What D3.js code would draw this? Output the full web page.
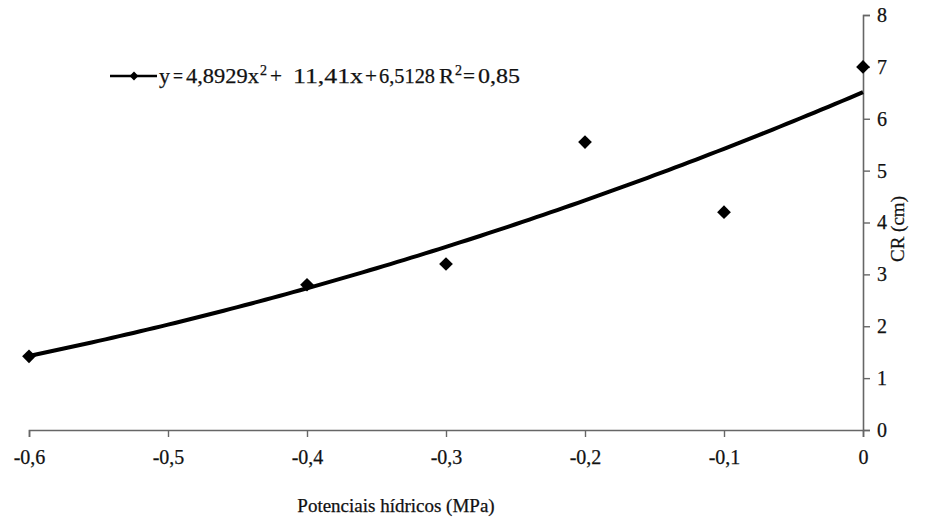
<!DOCTYPE html>
<html>
<head>
<meta charset="utf-8">
<script src="https://cdn.jsdelivr.net/npm/d3@7"></script>
<style>
  body { margin: 0; background: #fff; }
  svg { display: block; }
  text { font-family: "Liberation Serif", "Times New Roman", serif !important; fill: #111; stroke: #111; stroke-width: 0.25px; }
</style>
</head>
<body>
<svg id="chart" width="932" height="522"></svg>
<script>
// Measured water potential (MPa) and root length CR (cm)
const potentials = [-0.6, -0.4, -0.3, -0.2, -0.1, 0];
const rootLength = [1.42, 2.8, 3.2, 5.55, 4.2, 7.0];
// Quadratic trend coefficients [a, b, c] for y = a x² + b x + c
const trendCoef = [4.8929, 11.41, 6.5128];
const xTicks = [-0.6, -0.5, -0.4, -0.3, -0.2, -0.1, 0];
const yTicks = [0, 1, 2, 3, 4, 5, 6, 7, 8];

const serif = "Liberation Serif, Times New Roman, serif";
const svg = d3.select("#chart");
const x = d3.scaleLinear().domain([-0.6, 0]).range([29, 863]);
const y = d3.scaleLinear().domain([0, 8]).range([430, 15]);

// X axis along the bottom
const gx = svg.append("g").attr("transform", `translate(0,${y(0)})`)
  .call(d3.axisBottom(x).tickValues(xTicks).tickSize(7).tickPadding(13)
    .tickFormat(d => d === 0 ? "0" : d.toFixed(1).replace(".", ",")))
  .attr("font-family", serif);
gx.select(".domain").attr("stroke", "#666").attr("stroke-width", 1.6);
gx.selectAll(".tick line").attr("stroke", "#666").attr("stroke-width", 1.4);
gx.selectAll(".tick text").attr("font-size", 20).attr("fill", "#111");

// Y axis on the right side at x = 0
const gy = svg.append("g").attr("transform", `translate(${x(0)},0)`)
  .call(d3.axisRight(y).tickValues(yTicks).tickSize(7).tickPadding(7).tickFormat(d3.format("d")))
  .attr("font-family", serif);
gy.select(".domain").attr("stroke", "#666").attr("stroke-width", 1.6);
gy.selectAll(".tick line").attr("stroke", "#666").attr("stroke-width", 1.4);
gy.selectAll(".tick text").attr("font-size", 20).attr("fill", "#111");

// Trend curve from the fitted coefficients
const curveX = d3.range(0, 121).map(i => -0.6 + i * 0.005);
const trend = curveX.map(v => [v, trendCoef[0] * v * v + trendCoef[1] * v + trendCoef[2]]);
svg.append("path")
  .datum(trend)
  .attr("fill", "none")
  .attr("stroke", "#000")
  .attr("stroke-width", 4)
  .attr("d", d3.line().x(d => x(d[0])).y(d => y(d[1])));

// Observed points as diamonds
const diamond = d3.symbol().type(d3.symbolDiamond2).size(120);
svg.append("g").selectAll("path")
  .data(potentials.map((p, i) => [p, rootLength[i]]))
  .join("path")
  .attr("transform", d => `translate(${x(d[0])},${y(d[1])})`)
  .attr("d", diamond)
  .attr("fill", "#000");

// Legend entry: line + marker, then the equation
const lg = svg.append("g").attr("transform", "translate(110,76)");
lg.append("line").attr("x1", 0).attr("x2", 47).attr("y1", 0).attr("y2", 0)
  .attr("stroke", "#000").attr("stroke-width", 2.5);
lg.append("path").attr("d", d3.symbol().type(d3.symbolDiamond2).size(50))
  .attr("transform", "translate(24,0)").attr("fill", "#000");

// Equation pieces with their horizontal extents
const eqParts = [
  { t: "y", x: 159, w: 11 }, { t: "=", x: 173, w: 10 }, { t: "4,8929x", x: 186, w: 73 },
  { t: "2", x: 260, sup: true }, { t: "+", x: 270, w: 12 }, { t: "11,41x", x: 293, w: 70 },
  { t: "+", x: 365, w: 12 }, { t: "6,5128", x: 379, w: 56 }, { t: "R", x: 439, w: 15 },
  { t: "2", x: 455, sup: true }, { t: "=", x: 463, w: 12 }, { t: "0,85", x: 478, w: 42 }
];
svg.append("g").selectAll("text")
  .data(eqParts)
  .join("text")
  .attr("x", d => d.x)
  .attr("y", d => d.sup ? 75 : 83)
  .attr("font-size", d => d.sup ? 14 : 22)
  .attr("textLength", d => d.w || null)
  .attr("lengthAdjust", "spacingAndGlyphs")
  .text(d => d.t);

// Axis titles
svg.append("text").attr("x", 396).attr("y", 512).attr("text-anchor", "middle")
  .attr("font-size", 19).text("Potenciais hídricos (MPa)");
svg.append("text").attr("transform", "translate(904,229) rotate(-90)").attr("text-anchor", "middle")
  .attr("font-size", 19).text("CR (cm)");
</script>
</body>
</html>
